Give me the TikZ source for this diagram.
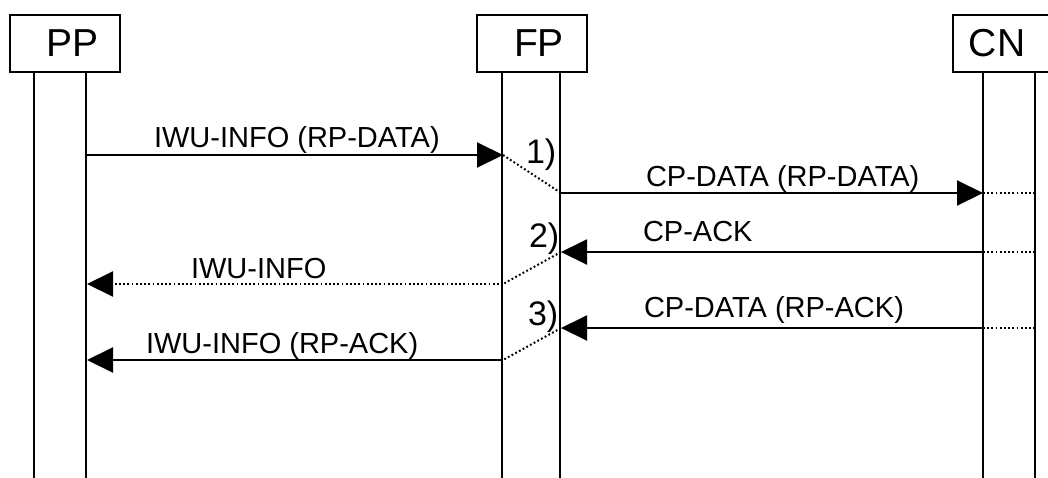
\documentclass[tikz,border=0pt]{standalone}
\usepackage{fontspec}
\setmainfont{Liberation Sans}
\usetikzlibrary{arrows.meta}

\begin{document}
\begin{tikzpicture}[x=1pt,y=-1pt,line width=2pt,
  entity/.style={draw,minimum width=110pt,minimum height=57pt,inner sep=0pt,font=\fontsize{39}{39}\selectfont},
  msg/.style={-{Triangle[length=26pt,width=25pt]}},
  pts/.style={dash pattern=on 1.8pt off 2.4pt},
  lbl/.style={anchor=base west,inner sep=0pt,font=\fontsize{29}{29}\selectfont},
  num/.style={anchor=base west,inner sep=0pt,font=\fontsize{34}{34}\selectfont}]

\useasboundingbox (0,0) rectangle (1048,477);
\clip (0,0) rectangle (1048,477);

\node[entity] (pp) at (64.5,43.5) {\hspace*{16pt}PP};%les boites
\node[entity] (fp) at (532,43.5) {\hspace*{14pt}FP};
\node[entity] (cn) at (1008,43.5) {CN\hspace*{22pt}};

\draw ([xshift=25pt]pp.south west) -- ++(0,405);%les lignes de vie
\draw ([xshift=77pt]pp.south west) -- ++(0,405);
\draw ([xshift=26pt]fp.south west) -- ++(0,405);
\draw ([xshift=84pt]fp.south west) -- ++(0,405);
\draw ([xshift=31pt]cn.south west) -- ++(0,405);
\draw ([xshift=83pt]cn.south west) -- ++(0,405);

\coordinate (a1) at (87,155); \coordinate (b1) at (503,155);
\coordinate (c1) at (561,193); \coordinate (d1) at (983,193); \coordinate (e1) at (1035,193);
\coordinate (c2) at (561,252); \coordinate (d2) at (983,252); \coordinate (e2) at (1035,252);
\coordinate (b2) at (503,284); \coordinate (a2) at (87,284);
\coordinate (c3) at (561,328); \coordinate (d3) at (983,328); \coordinate (e3) at (1035,328);
\coordinate (b3) at (503,360); \coordinate (a3) at (87,360);

\draw[msg] (a1) -- (b1);%les messages
\draw[pts] (b1) -- (c1);
\draw[msg] (c1) -- (d1);
\draw[pts] (d1) -- (e1);

\draw[msg] (d2) -- (c2);
\draw[pts] (d2) -- (e2);
\draw[pts] (c2) -- (b2);
\draw[msg,pts] (b2) -- (a2);

\draw[msg] (d3) -- (c3);
\draw[pts] (d3) -- (e3);
\draw[pts] (c3) -- (b3);
\draw[msg] (b3) -- (a3);

\node[lbl] (m1) at (153,147) {IWU-INFO (RP-DATA)};
\node[lbl] (m2) at (645,186) {CP-DATA (RP-DATA)};
\node[lbl] (m3) at (642,241) {CP-ACK};
\node[lbl] (m4) at (190,278) {IWU-INFO};
\node[lbl] (m5) at (643,317) {CP-DATA (RP-ACK)};
\node[lbl] (m6) at (145,353) {IWU-INFO (RP-ACK)};

\node[num] (s1) at (525,163) {1)};
\node[num] (s2) at (528,247) {2)};
\node[num] (s3) at (527,325) {3)};
\end{tikzpicture}
\end{document}
